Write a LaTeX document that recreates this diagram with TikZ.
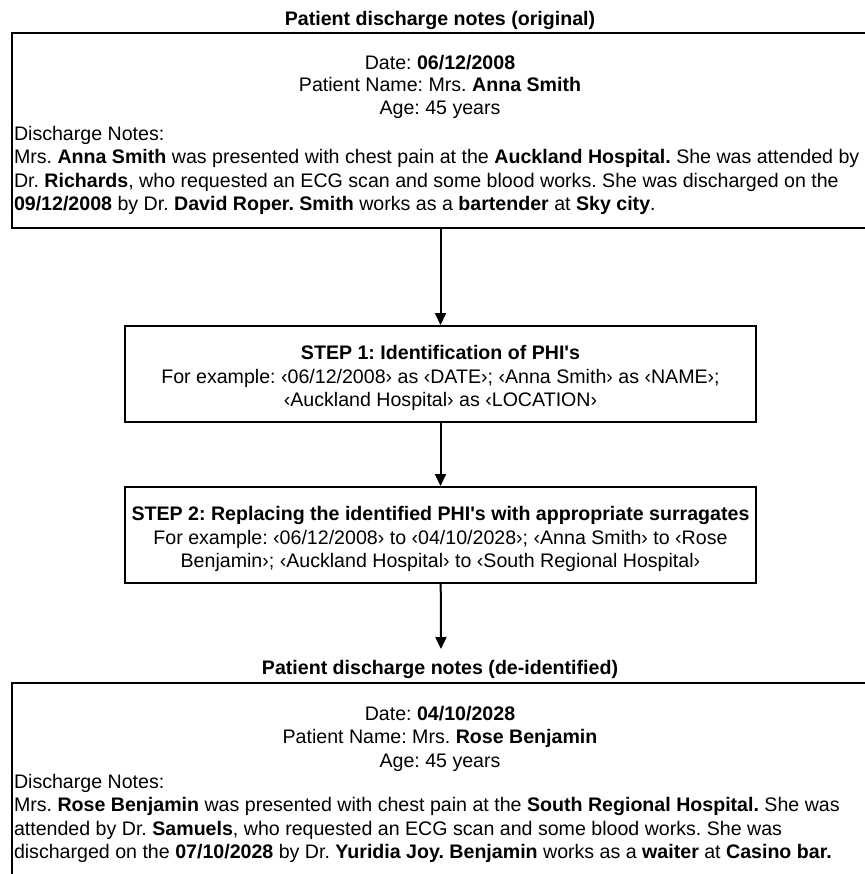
\documentclass[tikz,border=0pt]{standalone}
\usepackage{fontspec}
\setmainfont{Liberation Sans}
\usetikzlibrary{positioning,arrows.meta}
\frenchspacing

\begin{document}
\begin{tikzpicture}[x=0.5pt, y=-0.5pt, line width=1pt,
  txt/.style={inner sep=0pt, font=\fontsize{9.8}{11.7}\selectfont},
  notebox/.style={draw, anchor=north west, minimum width=440pt, inner sep=0pt},
  stepbox/.style={draw, txt, align=center, minimum width=315.5pt, minimum height=48pt},
  flow/.style={-{Triangle[length=6pt,width=5.5pt]}}]
  \useasboundingbox (0,0) rectangle (865,874);

  % original notes
  \node[txt, anchor=base] (origtitle) at (440,25) {\textbf{Patient discharge notes (original)}};
  \node[notebox, minimum height=97.5pt] (orig) at (11,32) {};
  \node[txt, font=\fontsize{9.8}{11.3}\selectfont, align=center, anchor=north] (orighead) at (440,54)
    {Date: \textbf{06/12/2008}\\Patient Name: Mrs. \textbf{Anna Smith}\\Age: 45 years};
  \node[txt, align=left, anchor=north west] (orignotes) at (13,125)
    {Discharge Notes:\\
     Mrs. \textbf{Anna Smith} was presented with chest pain at the \textbf{Auckland Hospital.} She was attended by\\
     Dr. \textbf{Richards}, who requested an ECG scan and some blood works. She was discharged on the\\
     \textbf{09/12/2008} by Dr. \textbf{David Roper. Smith} works as a \textbf{bartender} at \textbf{Sky city}.};

  % the two steps
  \node[stepbox] (step1) at (440.5,374)
    {\rule{0pt}{11.2pt}\textbf{STEP 1: Identification of PHI\textquotesingle s}\\
     For example: ‹06/12/2008› as ‹DATE›; ‹Anna Smith› as ‹NAME›;\\
     ‹Auckland Hospital› as ‹LOCATION›};
  \node[stepbox] (step2) at (440.5,535)
    {\rule{0pt}{11.2pt}\textbf{STEP 2: Replacing the identified PHI\textquotesingle s with appropriate surragates}\\
     For example: ‹06/12/2008› to ‹04/10/2028›; ‹Anna Smith› to ‹Rose\\
     Benjamin›; ‹Auckland Hospital› to ‹South Regional Hospital›};

  % de-identified notes
  \node[txt, anchor=base] (deidtitle) at (440,674) {\textbf{Patient discharge notes (de-identified)}};
  \coordinate (deidin) at (441,649);
  \node[notebox, minimum height=110pt] (deid) at (11,682) {};
  \node[txt, align=center, anchor=north] (deidhead) at (440,705)
    {Date: \textbf{04/10/2028}\\Patient Name: Mrs. \textbf{Rose Benjamin}\\Age: 45 years};
  \node[txt, align=left, anchor=north west] (deidnotes) at (13,773)
    {Discharge Notes:\\
     Mrs. \textbf{Rose Benjamin} was presented with chest pain at the \textbf{South Regional Hospital.} She was\\
     attended by Dr. \textbf{Samuels}, who requested an ECG scan and some blood works. She was\\
     discharged on the \textbf{07/10/2028} by Dr. \textbf{Yuridia Joy. Benjamin} works as a \textbf{waiter} at \textbf{Casino bar.}};

  \draw[flow] (orig.south -| step1.north) -- (step1.north);
  \draw[flow] (step1) -- (step2);
  \draw[flow] (step2) -- (deidin);
\end{tikzpicture}
\end{document}
